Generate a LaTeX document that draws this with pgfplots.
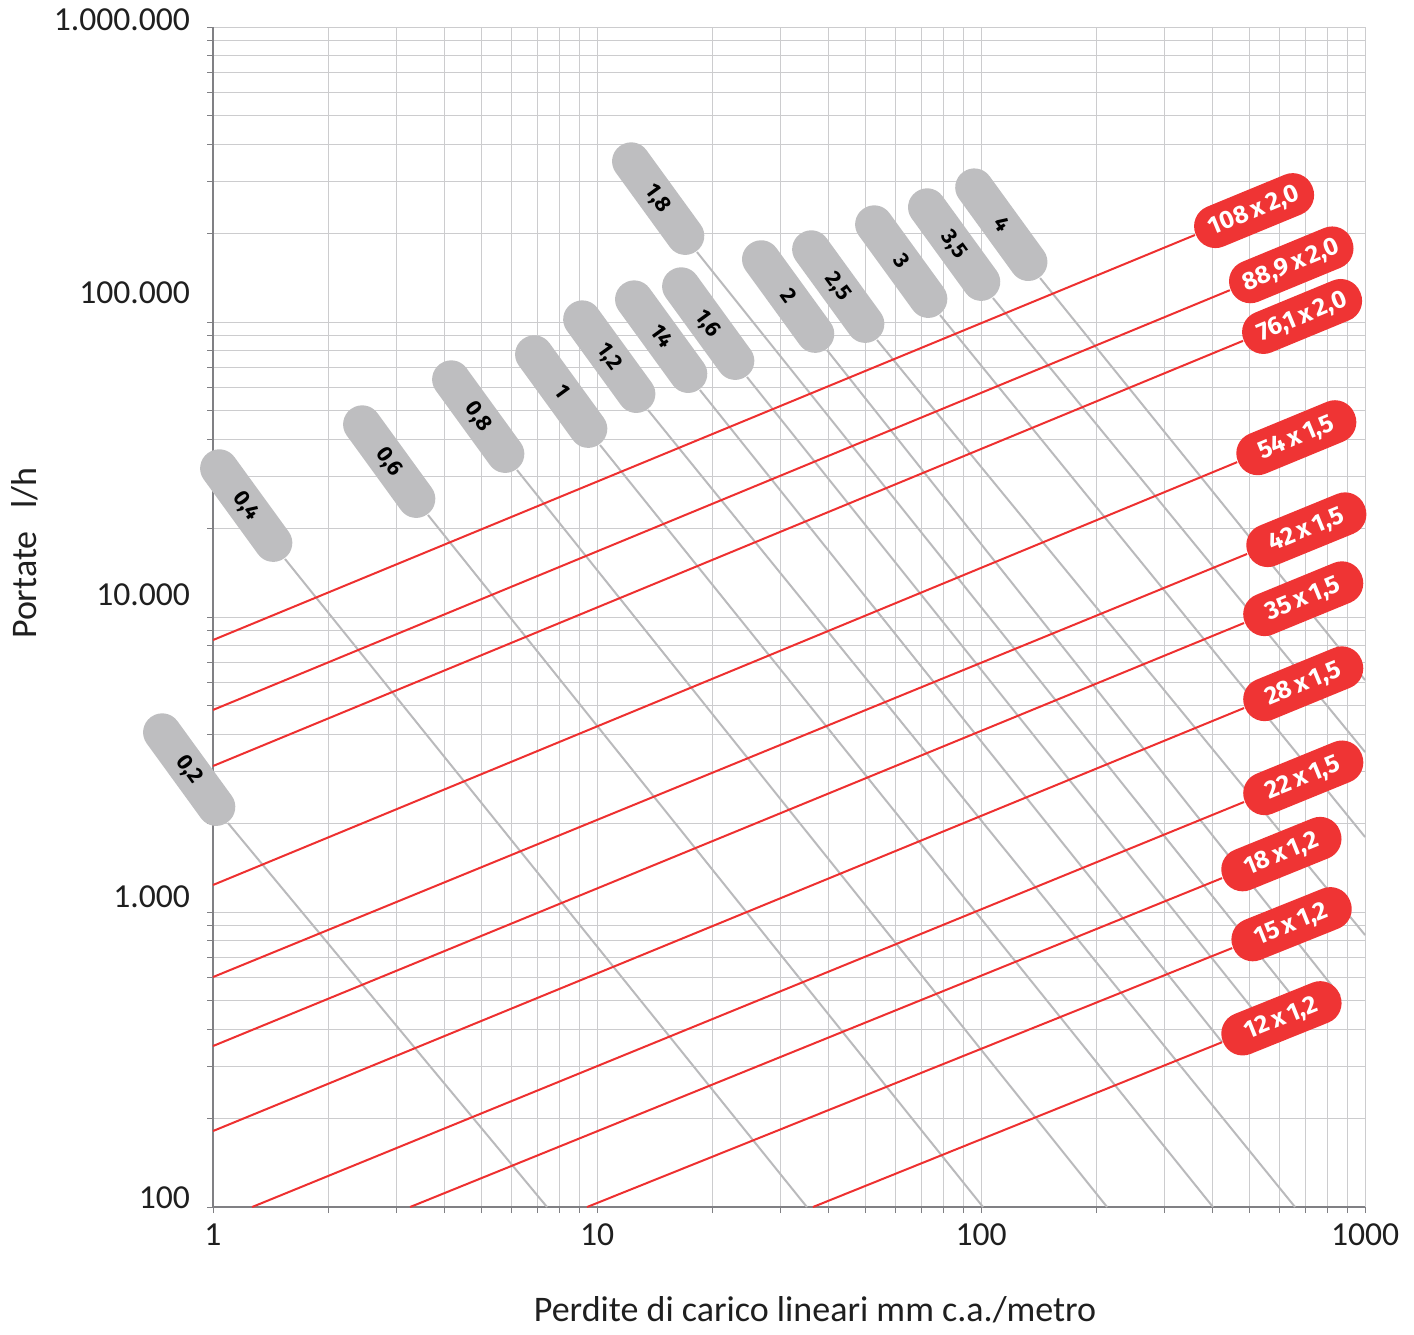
\documentclass[border=0pt]{standalone}
\usepackage{fontspec}
\setmainfont{Carlito}
\newfontfamily\pillfont{Fira Sans}
\usepackage{pgfplots}
\pgfplotsset{compat=1.18}
\definecolor{pillred}{RGB}{239,52,52}
\definecolor{linered}{RGB}{238,48,48}
\definecolor{pillgray}{RGB}{190,190,192}
\definecolor{linegray}{RGB}{186,186,188}
\definecolor{gridc}{RGB}{204,204,206}
\definecolor{axisc}{RGB}{128,128,132}
\tikzset{
 redpill/.style={draw=none, shape=rectangle, rounded corners=10.5pt, fill=pillred, text=white, font=\pillfont\bfseries\fontsize{12.5}{14}\selectfont, text height=9pt, text depth=1.9pt, inner xsep=7pt, inner ysep=5pt, minimum width=63pt, minimum height=21.5pt},
 graypill/.style={draw=none, shape=rectangle, rounded corners=9.4pt, fill=pillgray, text=black, font=\pillfont\bfseries\fontsize{11}{12}\selectfont, text height=8pt, text depth=1.7pt, inner xsep=7pt, inner ysep=4.5pt, minimum width=65pt, minimum height=19pt},
 redln/.style={linered, line width=1pt},
 grayln/.style={linegray, line width=1pt},
}
\begin{document}
\begin{tikzpicture}
\begin{axis}[
 scale only axis, width=576pt, height=590pt,
 xmode=log, ymode=log,
 xmin=1, xmax=1000, ymin=100, ymax=1000000,
 axis lines=left, axis line style={-, draw=axisc, line width=0.6pt},
 xtick={1,10,100,1000}, xticklabels={1,10,100,1000},
 ytick={100,1000,10000,100000,1000000},
 yticklabels={\raisebox{-0.8pt}[0pt][0pt]{100},\raisebox{2.2pt}[0pt][0pt]{1.000},\raisebox{5.7pt}[0pt][0pt]{10.000},\raisebox{9.2pt}[0pt][0pt]{100.000},\raisebox{-1.8pt}[0pt][0pt]{1.000.000}},
 minor xtick={2,3,4,5,6,7,8,9,20,30,40,50,60,70,80,90,200,300,400,500,600,700,800,900},
 minor ytick={200,300,400,500,600,700,800,900,2000,3000,4000,5000,6000,7000,8000,9000,20000,30000,40000,50000,60000,70000,80000,90000,200000,300000,400000,500000,600000,700000,800000,900000},
 grid=both, grid style={gridc, line width=0.5pt}, major grid style={gridc, line width=0.5pt}, minor grid style={gridc, line width=0.5pt},
 tick align=outside, major tick length=3pt, minor tick length=3pt,
 tick style={axisc, line width=0.5pt},
 tick label style={font=\fontsize{16.8}{19}\selectfont, text=black!88},
 xticklabel style={yshift=-2pt},
 yticklabel style={xshift=-5pt},
 xlabel={Perdite di carico lineari mm c.a./metro},
 ylabel={Portate\hspace{0.4em} l/h},
 label style={font=\fontsize{18}{21}\selectfont, text=black!88},
 xlabel style={at={(axis description cs:0.5226,-0.0873)}, anchor=center},
 ylabel style={at={(axis description cs:-0.163,0.554)}, anchor=center},
 clip=false,
]
\path (rel axis cs:-0.1849,-0.1076) rectangle (rel axis cs:1.0425,1.0229);
% velocity lines (grey)
\addplot[grayln] coordinates {(1.094,2003) (7.41,100)} node[graypill, pos=0, rotate=-54, anchor=east] {0,2};
\addplot[grayln] coordinates {(1.540,15730) (35.2,100)} node[graypill, pos=0, rotate=-54, anchor=east] {0,4};
\addplot[grayln] coordinates {(3.63,22170) (101.2,100)} node[graypill, pos=0, rotate=-54, anchor=east] {0,6};
\addplot[grayln] coordinates {(6.19,31500) (212.9,100)} node[graypill, pos=0, rotate=-54, anchor=east] {0,8};
\addplot[grayln] coordinates {(10.18,38300) (401.8,100)} node[graypill, pos=0, rotate=-54, anchor=east] {1};
\addplot[grayln] coordinates {(13.58,50300) (657.3,100)} node[graypill, pos=0, rotate=-54, anchor=east] {1,2};
\addplot[grayln] coordinates {(18.54,58800) (424.3,362.2)} node[graypill, pos=0, rotate=-54, anchor=east] {14};
\addplot[grayln] coordinates {(24.58,65100) (549.2,415.2)} node[graypill, pos=0, rotate=-54, anchor=east] {1,6};
\addplot[grayln] coordinates {(18.21,172700) (689.5,467.6)} node[graypill, pos=0, rotate=-54, anchor=east] {1,8};
\addplot[grayln] coordinates {(39.7,80400) (860,520)} node[graypill, pos=0, rotate=-54, anchor=east] {2};
\addplot[grayln] coordinates {(53.6,86900) (1000,835.6)} node[graypill, pos=0, rotate=-54, anchor=east] {2,5};
\addplot[grayln] coordinates {(78.2,105600) (1000,1796)} node[graypill, pos=0, rotate=-54, anchor=east] {3};
\addplot[grayln] coordinates {(107.4,120600) (1000,3486)} node[graypill, pos=0, rotate=-54, anchor=east] {3,5};
\addplot[grayln] coordinates {(142.5,140900) (1000,6114)} node[graypill, pos=0, rotate=-54, anchor=east] {4};
% pipe lines (red)
\addplot[redln] coordinates {(1,8356) (360.6,197200)} node[redpill, pos=1, sloped, anchor=west] {108\,x\,2,0};
\addplot[redln] coordinates {(1,4842) (444.6,128200)} node[redpill, pos=1, sloped, anchor=west] {88,9\,x\,2,0};
\addplot[redln] coordinates {(1,3126) (480.8,86300)} node[redpill, pos=1, sloped, anchor=west] {76,1\,x\,2,0};
\addplot[redln] coordinates {(1,1235) (464.5,33500)} node[redpill, pos=1, sloped, anchor=west] {54\,x\,1,5};
\addplot[redln] coordinates {(1,602) (493,16360)} node[redpill, pos=1, sloped, anchor=west] {42\,x\,1,5};
\addplot[redln] coordinates {(1,351.4) (484,9543)} node[redpill, pos=1, sloped, anchor=west] {35\,x\,1,5};
\addplot[redln] coordinates {(1,181) (484,4914)} node[redpill, pos=1, sloped, anchor=west] {28\,x\,1,5};
\addplot[redln] coordinates {(1.264,100) (484,2360)} node[redpill, pos=1, sloped, anchor=west] {22\,x\,1,5};
\addplot[redln] coordinates {(3.26,100) (424.3,1303)} node[redpill, pos=1, sloped, anchor=west] {18\,x\,1,2};
\addplot[redln] coordinates {(9.42,100) (450.8,755)} node[redpill, pos=1, sloped, anchor=west] {15\,x\,1,2};
\addplot[redln] coordinates {(36.5,100) (424.3,362)} node[redpill, pos=1, sloped, anchor=west] {12\,x\,1,2};
\end{axis}
\end{tikzpicture}
\end{document}
